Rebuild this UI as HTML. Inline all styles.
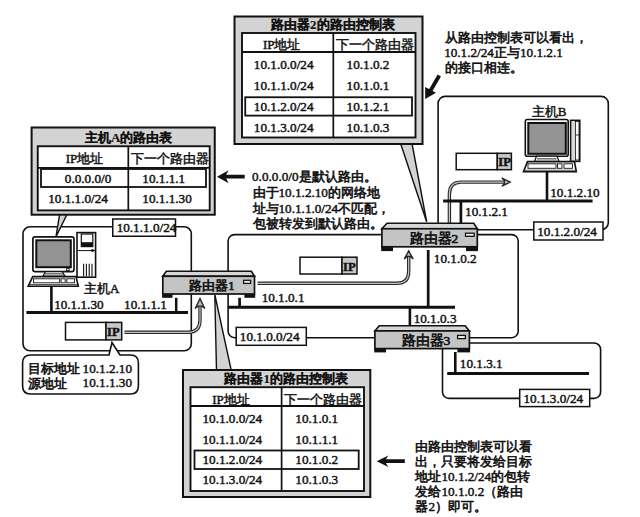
<!DOCTYPE html>
<html><head><meta charset="utf-8"><style>
html,body{margin:0;padding:0;background:#fff;width:640px;height:517px;overflow:hidden}
svg{display:block}
text{font-family:"Liberation Serif",serif;fill:#111}
</style></head><body>
<svg width="640" height="517" viewBox="0 0 640 517">
<rect x="23" y="226.8" width="168.30" height="124.00" rx="7" fill="none" stroke="#111" stroke-width="1.6"/>
<rect x="228.1" y="234.6" width="290.10" height="103.10" rx="6.5" fill="none" stroke="#111" stroke-width="1.6"/>
<rect x="438.1" y="96.4" width="170.20" height="133.30" rx="7" fill="none" stroke="#111" stroke-width="1.6"/>
<rect x="442.5" y="343" width="158.10" height="55.40" rx="6.5" fill="none" stroke="#111" stroke-width="1.6"/>
<path d="M124.5,332.3 L188,332.3 Q200,332.3 200,320 L200,305" fill="none" stroke="#2a2a2a" stroke-width="3.4"/>
<path d="M124.5,332.3 L188,332.3 Q200,332.3 200,320 L200,305" fill="none" stroke="#c4c4c4" stroke-width="1.2"/>
<path d="M195.2,308.6 L200,298.6 L204.8,308.6 L201.6,306.1 L198.4,306.1 Z" fill="#bbb" stroke="#222" stroke-width="1.3" stroke-linejoin="miter"/>
<path d="M257.7,283.3 L397,283.3 Q408.7,283.3 408.7,271.5 L408.7,257" fill="none" stroke="#2a2a2a" stroke-width="3.4"/>
<path d="M257.7,283.3 L397,283.3 Q408.7,283.3 408.7,271.5 L408.7,257" fill="none" stroke="#c4c4c4" stroke-width="1.2"/>
<path d="M404.3,258.9 L408.7,250.9 L413.09999999999997,258.9 L410.3,256.4 L407.09999999999997,256.4 Z" fill="#bbb" stroke="#222" stroke-width="1.3" stroke-linejoin="miter"/>
<path d="M449.4,223 L449.4,194 Q449.4,182.1 461.3,182.1 L504,182.1" fill="none" stroke="#2a2a2a" stroke-width="3.4"/>
<path d="M449.4,223 L449.4,194 Q449.4,182.1 461.3,182.1 L504,182.1" fill="none" stroke="#c4c4c4" stroke-width="1.2"/>
<path d="M501.9,178.0 L510.2,182.1 L501.9,186.2 L504.4,183.7 L504.4,180.5 Z" fill="#bbb" stroke="#222" stroke-width="1.3" stroke-linejoin="miter"/>
<line x1="26.4" y1="312.4" x2="188" y2="312.4" stroke="#111" stroke-width="3.0"/>
<line x1="228" y1="307.3" x2="455" y2="307.3" stroke="#111" stroke-width="3.0"/>
<line x1="443.1" y1="200.9" x2="592.6" y2="200.9" stroke="#111" stroke-width="3.0"/>
<line x1="447.2" y1="373.6" x2="589" y2="373.6" stroke="#111" stroke-width="3.0"/>
<line x1="51.4" y1="286.7" x2="51.4" y2="312" stroke="#111" stroke-width="2.6"/>
<line x1="176.2" y1="297.8" x2="176.2" y2="312" stroke="#111" stroke-width="2.5"/>
<line x1="239.6" y1="297.8" x2="239.6" y2="307.5" stroke="#111" stroke-width="2.7"/>
<line x1="460.9" y1="200.9" x2="460.9" y2="223.3" stroke="#111" stroke-width="2.7"/>
<line x1="428.2" y1="250" x2="428.2" y2="307.5" stroke="#111" stroke-width="2.7"/>
<line x1="409.9" y1="307.5" x2="409.9" y2="325.7" stroke="#111" stroke-width="2.6"/>
<line x1="455.3" y1="352" x2="455.3" y2="373.6" stroke="#111" stroke-width="2.6"/>
<line x1="547" y1="171.4" x2="547" y2="200.9" stroke="#111" stroke-width="2.6"/>
<rect x="112.75" y="219" width="62.75" height="17.25" rx="0" fill="#fff" stroke="#111" stroke-width="1.5"/>
<text x="116.64" y="232" font-size="13.2" stroke="#111" stroke-width="0.45">10.1.1.0/24</text>
<rect x="236.2" y="327.4" width="70.10" height="17.90" rx="0" fill="#fff" stroke="#111" stroke-width="1.5"/>
<text x="239.84" y="341.4" font-size="13.2" stroke="#111" stroke-width="0.45">10.1.0.0/24</text>
<rect x="533.8" y="222" width="69.20" height="18.00" rx="0" fill="#fff" stroke="#111" stroke-width="1.5"/>
<text x="537.24" y="236" font-size="13.2" stroke="#111" stroke-width="0.45">10.1.2.0/24</text>
<rect x="519.7" y="389.4" width="70.00" height="17.20" rx="0" fill="#fff" stroke="#111" stroke-width="1.5"/>
<text x="523.44" y="402.6" font-size="13.2" stroke="#111" stroke-width="0.45">10.1.3.0/24</text>
<rect x="77" y="232.6" width="18.60" height="44.60" rx="0" fill="#fff" stroke="#111" stroke-width="1.6"/>
<rect x="81.3" y="234" width="11.50" height="12.60" rx="0" fill="#fff" stroke="#111" stroke-width="1.2"/>
<rect x="81.3" y="242.2" width="11.5" height="4.4" fill="#111"/>
<line x1="78" y1="250.6" x2="95" y2="250.6" stroke="#111" stroke-width="1"/>
<rect x="91.4" y="249.2" width="2.2" height="2.6" fill="#111"/>
<line x1="83.6" y1="263.8" x2="83.6" y2="276.4" stroke="#111" stroke-width="1.1"/>
<line x1="86.4" y1="263.8" x2="86.4" y2="276.4" stroke="#111" stroke-width="1.1"/>
<line x1="89.2" y1="263.8" x2="89.2" y2="276.4" stroke="#111" stroke-width="1.1"/>
<line x1="92.0" y1="263.8" x2="92.0" y2="276.4" stroke="#111" stroke-width="1.1"/>
<rect x="32.9" y="236.9" width="41.10" height="34.70" rx="2.2" fill="#fff" stroke="#111" stroke-width="1.7"/>
<rect x="36.3" y="240.3" width="34.50" height="26.90" rx="0" fill="#939393" stroke="#111" stroke-width="2.0"/>
<rect x="66.6" y="268.6" width="2.60" height="2.00" rx="0" fill="#fff" stroke="#111" stroke-width="0.9"/>
<path d="M43,276 L45.5,271.6 L62.3,271.6 L64.8,276 Z" fill="#fff" stroke="#111" stroke-width="1.2" />
<line x1="45" y1="273.8" x2="63" y2="273.8" stroke="#777" stroke-width="1.6"/>
<path d="M32.7,276.6 L76,276.6 L78.3,286.3 L28.2,286.3 Z" fill="#fff" stroke="#111" stroke-width="1.6" />
<rect x="33.5" y="278.8" width="26.20" height="4.00" rx="0" fill="#fff" stroke="#111" stroke-width="0.9"/>
<rect x="61" y="278.8" width="4.20" height="4.00" rx="0" fill="#fff" stroke="#111" stroke-width="0.9"/>
<rect x="66.8" y="278.8" width="7.70" height="4.00" rx="0" fill="#fff" stroke="#111" stroke-width="0.9"/>
<line x1="29.6" y1="284.6" x2="77" y2="284.6" stroke="#555" stroke-width="1.1"/>
<rect x="570.6" y="120.3" width="9.20" height="41.10" rx="0" fill="#d8d8d8" stroke="#111" stroke-width="1.5"/>
<rect x="575.6" y="121.5" width="3.40" height="38.50" rx="0" fill="#fafafa" stroke="#111" stroke-width="0.8"/>
<line x1="575.6" y1="135" x2="579" y2="135" stroke="#111" stroke-width="0.8"/>
<rect x="525.3" y="119.5" width="42.90" height="36.70" rx="2" fill="#fff" stroke="#111" stroke-width="1.6"/>
<rect x="528.3" y="123" width="37.50" height="30.80" rx="0" fill="#939393" stroke="#111" stroke-width="2.0"/>
<path d="M534.5,161.4 L536.5,156.2 L557,156.2 L559,161.4 Z" fill="#fff" stroke="#111" stroke-width="1.2" />
<line x1="537" y1="158.8" x2="556.5" y2="158.8" stroke="#777" stroke-width="1.6"/>
<path d="M527.5,161.6 L574.5,161.6 L576.3,171.8 L523.5,171.8 Z" fill="#fff" stroke="#111" stroke-width="1.6" />
<rect x="528" y="163.8" width="28.00" height="4.50" rx="0" fill="#fff" stroke="#111" stroke-width="0.9"/>
<rect x="557.5" y="163.8" width="4.50" height="4.50" rx="0" fill="#fff" stroke="#111" stroke-width="0.9"/>
<rect x="564" y="163.8" width="8.50" height="4.50" rx="0" fill="#fff" stroke="#111" stroke-width="0.9"/>
<line x1="525" y1="170.2" x2="575" y2="170.2" stroke="#555" stroke-width="1.1"/>
<path d="M59.7,214 L56,236.6 L67.2,214 Z" fill="#d3d3d3" stroke="#111" stroke-width="1.4" />
<path d="M400.6,143.5 L426.7,222 L412,143.5 Z" fill="#d3d3d3" stroke="#111" stroke-width="1.4" />
<path d="M214.8,294.5 L216.5,370.5 L231.3,370.5 Z" fill="#d3d3d3" stroke="#111" stroke-width="1.4" />
<rect x="31.6" y="127.5" width="183.15" height="87.20" rx="0" fill="#d3d3d3" stroke="#111" stroke-width="2"/>
<text x="85.00" y="142" font-size="13" font-weight="bold" stroke="#111" stroke-width="0.15">主机A的路由表</text>
<rect x="37.75" y="146.25" width="171.95" height="64.15" rx="0" fill="#fff" stroke="#111" stroke-width="1.9"/>
<line x1="37.75" y1="167.8" x2="209.7" y2="167.8" stroke="#111" stroke-width="1.8"/>
<line x1="128.3" y1="146.25" x2="128.3" y2="210.4" stroke="#111" stroke-width="1.7"/>
<text x="65.78" y="162.75" font-size="13" stroke="#111" stroke-width="0.45">IP地址</text>
<text x="131.00" y="162.75" font-size="13" stroke="#111" stroke-width="0.45">下一个路由器</text>
<text x="64.80" y="182.8" font-size="13.2" stroke="#111" stroke-width="0.45">0.0.0.0/0</text>
<text x="142.34" y="182.8" font-size="13.2" stroke="#111" stroke-width="0.45">10.1.1.1</text>
<text x="48.24" y="203.4" font-size="13.2" stroke="#111" stroke-width="0.45">10.1.1.0/24</text>
<text x="142.34" y="203.4" font-size="13.2" stroke="#111" stroke-width="0.45">10.1.1.30</text>
<rect x="41" y="169" width="165.00" height="18.00" rx="0" fill="none" stroke="#111" stroke-width="1.8"/>
<rect x="234.5" y="16.5" width="188.00" height="127.50" rx="0" fill="#d3d3d3" stroke="#111" stroke-width="2"/>
<text x="271.00" y="29" font-size="13" font-weight="bold" stroke="#111" stroke-width="0.15">路由器2的路由控制表</text>
<rect x="242" y="33" width="173.50" height="104.50" rx="0" fill="#fff" stroke="#111" stroke-width="1.9"/>
<line x1="242" y1="52" x2="415.5" y2="52" stroke="#111" stroke-width="1.8"/>
<line x1="333.3" y1="33" x2="333.3" y2="137.5" stroke="#111" stroke-width="1.7"/>
<text x="262.93" y="49" font-size="13" stroke="#111" stroke-width="0.45">IP地址</text>
<text x="336.00" y="49" font-size="13" stroke="#111" stroke-width="0.45">下一个路由器</text>
<text x="253.84" y="68.75" font-size="13.2" stroke="#111" stroke-width="0.45">10.1.0.0/24</text>
<text x="346.59" y="68.75" font-size="13.2" stroke="#111" stroke-width="0.45">10.1.0.2</text>
<text x="253.84" y="89.75" font-size="13.2" stroke="#111" stroke-width="0.45">10.1.1.0/24</text>
<text x="346.59" y="89.75" font-size="13.2" stroke="#111" stroke-width="0.45">10.1.0.1</text>
<text x="253.84" y="111" font-size="13.2" stroke="#111" stroke-width="0.45">10.1.2.0/24</text>
<text x="346.59" y="111" font-size="13.2" stroke="#111" stroke-width="0.45">10.1.2.1</text>
<text x="253.84" y="131.6" font-size="13.2" stroke="#111" stroke-width="0.45">10.1.3.0/24</text>
<text x="346.59" y="131.6" font-size="13.2" stroke="#111" stroke-width="0.45">10.1.0.3</text>
<rect x="245.25" y="97.25" width="166.75" height="18.35" rx="0" fill="none" stroke="#111" stroke-width="1.8"/>
<rect x="183" y="370" width="187.30" height="127.00" rx="0" fill="#d3d3d3" stroke="#111" stroke-width="2"/>
<text x="224.40" y="383" font-size="13" font-weight="bold" stroke="#111" stroke-width="0.15">路由器1的路由控制表</text>
<rect x="190.5" y="387.2" width="173.50" height="103.80" rx="0" fill="#fff" stroke="#111" stroke-width="1.9"/>
<line x1="190.5" y1="406" x2="364" y2="406" stroke="#111" stroke-width="1.8"/>
<line x1="281.6" y1="387.2" x2="281.6" y2="491" stroke="#111" stroke-width="1.7"/>
<text x="212.28" y="404" font-size="13" stroke="#111" stroke-width="0.45">IP地址</text>
<text x="284.00" y="404" font-size="13" stroke="#111" stroke-width="0.45">下一个路由器</text>
<text x="202.44" y="422.8" font-size="13.2" stroke="#111" stroke-width="0.45">10.1.0.0/24</text>
<text x="295.34" y="422.8" font-size="13.2" stroke="#111" stroke-width="0.45">10.1.0.1</text>
<text x="202.44" y="443.5" font-size="13.2" stroke="#111" stroke-width="0.45">10.1.1.0/24</text>
<text x="295.34" y="443.5" font-size="13.2" stroke="#111" stroke-width="0.45">10.1.1.1</text>
<text x="202.44" y="464.2" font-size="13.2" stroke="#111" stroke-width="0.45">10.1.2.0/24</text>
<text x="295.34" y="464.2" font-size="13.2" stroke="#111" stroke-width="0.45">10.1.0.2</text>
<text x="202.44" y="483.9" font-size="13.2" stroke="#111" stroke-width="0.45">10.1.3.0/24</text>
<text x="295.34" y="483.9" font-size="13.2" stroke="#111" stroke-width="0.45">10.1.0.3</text>
<rect x="194.5" y="450.5" width="164.20" height="18.50" rx="0" fill="none" stroke="#111" stroke-width="1.8"/>
<path d="M166.3,271.25 L251.4,271.25 L254.5,276.25 L162.8,276.25 Z" fill="#d6d6d6" stroke="#111" stroke-width="1.6" />
<rect x="162.8" y="276.25" width="91.70" height="17.75" rx="0" fill="#c4c4c4" stroke="#111" stroke-width="1.7"/>
<rect x="162.10000000000002" y="294" width="10.399999999999988" height="3.8000000000000114" fill="#111"/>
<rect x="244.4" y="294" width="10.799999999999994" height="3.8000000000000114" fill="#111"/>
<text x="189.00" y="290" font-size="13.3" stroke="#111" stroke-width="0.65">路由器1</text>
<rect x="243.6" y="280.3" width="7.00" height="3.10" rx="0" fill="#f4f4f4" stroke="#111" stroke-width="1.3"/>
<path d="M387,223.3 L473.8,223.3 L477.3,228.75 L381.9,228.75 Z" fill="#d6d6d6" stroke="#111" stroke-width="1.6" />
<rect x="381.9" y="228.75" width="95.40" height="18.05" rx="0" fill="#c4c4c4" stroke="#111" stroke-width="1.7"/>
<rect x="381.2" y="246.8" width="11.800000000000022" height="4.299999999999983" fill="#111"/>
<rect x="466" y="246.8" width="12.00000000000001" height="4.299999999999983" fill="#111"/>
<text x="409.60" y="242.5" font-size="13.5" stroke="#111" stroke-width="0.65">路由器2</text>
<rect x="465.5" y="233.2" width="8.70" height="3.10" rx="0" fill="#f4f4f4" stroke="#111" stroke-width="1.3"/>
<path d="M379.2,325.7 L465.1,325.7 L469.4,330.9 L374.9,330.9 Z" fill="#d6d6d6" stroke="#111" stroke-width="1.6" />
<rect x="374.9" y="330.9" width="94.50" height="17.70" rx="0" fill="#c4c4c4" stroke="#111" stroke-width="1.7"/>
<rect x="374.2" y="348.6" width="11.800000000000022" height="3.7999999999999545" fill="#111"/>
<rect x="457.4" y="348.6" width="12.7" height="3.7999999999999545" fill="#111"/>
<text x="401.50" y="345" font-size="13.5" stroke="#111" stroke-width="0.65">路由器3</text>
<rect x="457.6" y="335.4" width="7.80" height="3.20" rx="0" fill="#f4f4f4" stroke="#111" stroke-width="1.3"/>
<rect x="65.5" y="322.4" width="40.50" height="17.50" rx="0" fill="#fff" stroke="#111" stroke-width="1.5"/>
<rect x="106" y="322.4" width="15.70" height="17.50" rx="0" fill="#c8c8c8" stroke="#111" stroke-width="1.5"/>
<text x="107.05" y="336.4" font-size="12.5" font-weight="bold" stroke="#111" stroke-width="0.45">IP</text>
<rect x="300" y="257.2" width="42.00" height="16.80" rx="0" fill="#fff" stroke="#111" stroke-width="1.5"/>
<rect x="342" y="257.2" width="15.00" height="16.80" rx="0" fill="#c8c8c8" stroke="#111" stroke-width="1.5"/>
<text x="343.05" y="270.5" font-size="12.5" font-weight="bold" stroke="#111" stroke-width="0.45">IP</text>
<rect x="456.2" y="153.3" width="41.10" height="16.40" rx="0" fill="#fff" stroke="#111" stroke-width="1.5"/>
<rect x="497.3" y="153.3" width="14.10" height="16.40" rx="0" fill="#c8c8c8" stroke="#111" stroke-width="1.5"/>
<text x="498.35" y="166.2" font-size="12.5" font-weight="bold" stroke="#111" stroke-width="0.45">IP</text>
<text x="54.14" y="309" font-size="13.2" stroke="#111" stroke-width="0.45">10.1.1.30</text>
<text x="124.04" y="308.6" font-size="13.2" stroke="#111" stroke-width="0.45">10.1.1.1</text>
<text x="84.00" y="293" font-size="13" stroke="#111" stroke-width="0.45">主机A</text>
<text x="261.64" y="301.8" font-size="13.2" stroke="#111" stroke-width="0.45">10.1.0.1</text>
<text x="433.84" y="263" font-size="13.2" stroke="#111" stroke-width="0.45">10.1.0.2</text>
<text x="413.64" y="323.3" font-size="13.2" stroke="#111" stroke-width="0.45">10.1.0.3</text>
<text x="459.84" y="367.7" font-size="13.2" stroke="#111" stroke-width="0.45">10.1.3.1</text>
<text x="465.09" y="216.3" font-size="13.2" stroke="#111" stroke-width="0.45">10.1.2.1</text>
<text x="550.24" y="196.6" font-size="13.2" stroke="#111" stroke-width="0.45">10.1.2.10</text>
<text x="531.70" y="116" font-size="13" stroke="#111" stroke-width="0.45">主机B</text>
<path d="M30.6,355 L109,355 L112,342.5 L120,355 L130.4,355 Q138.4,355 138.4,363 L138.4,386 Q138.4,394 130.4,394 L30.6,394 Q22.6,394 22.6,386 L22.6,363 Q22.6,355 30.6,355 Z" fill="#fff" stroke="#111" stroke-width="1.6" />
<text x="28.00" y="373"><tspan font-size="13" stroke="#111" stroke-width="0.6">目标地址</tspan></text>
<text x="82.59" y="372.7" font-size="13.2" stroke="#111" stroke-width="0.45">10.1.2.10</text>
<text x="28.00" y="388"><tspan font-size="13" stroke="#111" stroke-width="0.6">源地址</tspan></text>
<text x="82.59" y="387.1" font-size="13.2" stroke="#111" stroke-width="0.45">10.1.1.30</text>
<path d="M217,176.7 L228.6,170.2 L226.2,174.85 L244.7,174.85 L244.7,178.54999999999998 L226.2,178.54999999999998 L228.6,183.2 Z" fill="#111"/>
<path d="M376.7,461.2 L388.3,455.4 L385.90000000000003,459.3 L404.8,459.3 L404.8,463.09999999999997 L385.90000000000003,463.09999999999997 L388.3,467.0 Z" fill="#111"/>
<line x1="439.3" y1="75.5" x2="430" y2="91.5" stroke="#111" stroke-width="3.8"/>
<path d="M425.2,99.1 L425.2,86.9 L436,92.7 Z" fill="#111"/>
<text x="445.30" y="42"><tspan font-size="13.2" stroke="#111" stroke-width="0.6">从路由控制表可以看出，</tspan></text>
<text x="444.14" y="57"><tspan font-size="13.2" stroke="#111" stroke-width="0.45">10.1.2/24</tspan><tspan font-size="13.2" stroke="#111" stroke-width="0.6">正与</tspan><tspan font-size="13.2" stroke="#111" stroke-width="0.45">10.1.2.1</tspan></text>
<text x="445.30" y="72"><tspan font-size="13.2" stroke="#111" stroke-width="0.6">的接口相连。</tspan></text>
<text x="252.00" y="181.0"><tspan font-size="13.2" stroke="#111" stroke-width="0.45">0.0.0.0/0</tspan><tspan font-size="13" stroke="#111" stroke-width="0.6">是默认路由。</tspan></text>
<text x="252.50" y="196.8"><tspan font-size="13" stroke="#111" stroke-width="0.6">由于</tspan><tspan font-size="13.2" stroke="#111" stroke-width="0.45">10.1.2.10</tspan><tspan font-size="13" stroke="#111" stroke-width="0.6">的网络地</tspan></text>
<text x="252.50" y="212.6"><tspan font-size="13" stroke="#111" stroke-width="0.6">址与</tspan><tspan font-size="13.2" stroke="#111" stroke-width="0.45">10.1.1.0/24</tspan><tspan font-size="13" stroke="#111" stroke-width="0.6">不匹配，</tspan></text>
<text x="252.50" y="228.4"><tspan font-size="13" stroke="#111" stroke-width="0.6">包被转发到默认路由。</tspan></text>
<text x="415.40" y="451"><tspan font-size="13" stroke="#111" stroke-width="0.6">由路由控制表可以看</tspan></text>
<text x="415.40" y="466"><tspan font-size="13" stroke="#111" stroke-width="0.6">出，只要将发给目标</tspan></text>
<text x="415.40" y="481"><tspan font-size="13" stroke="#111" stroke-width="0.6">地址</tspan><tspan font-size="13.2" stroke="#111" stroke-width="0.45">10.1.2/24</tspan><tspan font-size="13" stroke="#111" stroke-width="0.6">的包转</tspan></text>
<text x="415.40" y="496"><tspan font-size="13" stroke="#111" stroke-width="0.6">发给</tspan><tspan font-size="13.2" stroke="#111" stroke-width="0.45">10.1.0.2</tspan><tspan font-size="13" stroke="#111" stroke-width="0.6">（路由</tspan></text>
<text x="415.40" y="511"><tspan font-size="13" stroke="#111" stroke-width="0.6">器</tspan><tspan font-size="13.2" stroke="#111" stroke-width="0.45">2</tspan><tspan font-size="13" stroke="#111" stroke-width="0.6">）即可。</tspan></text>
</svg>
</body></html>
